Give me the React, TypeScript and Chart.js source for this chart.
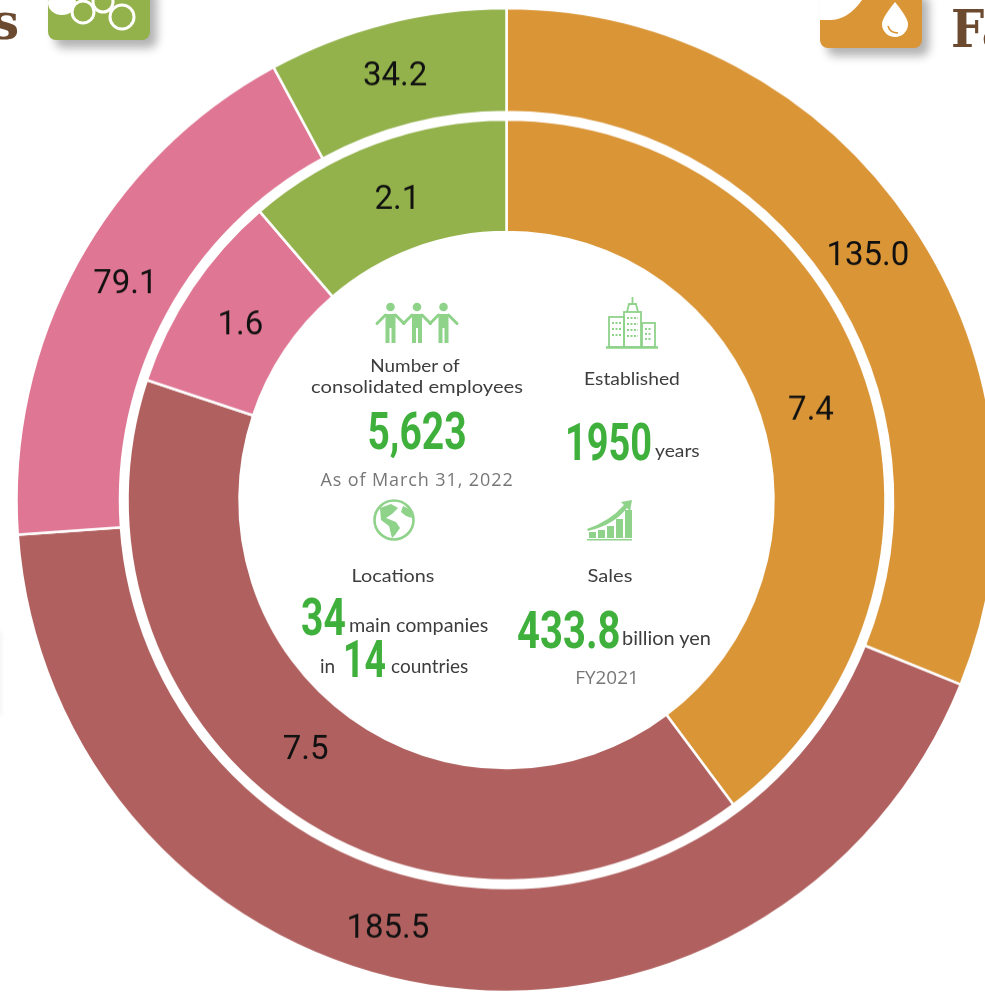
import React, { useEffect, useRef } from "react";
import { Chart, registerables } from "chart.js";

Chart.register(...registerables);

const segments = ["Fats and oils", "Processed foods", "Chemicals", "Other"];
const salesValues = [135.0, 185.5, 79.1, 34.2];
const profitValues = [7.4, 7.5, 1.6, 2.1];
const segmentColors = ["#DA9537", "#B0615F", "#DF7693", "#93B24B"];
const spacerValues = [1];
const salesLabelNudge = [[-2, 3], [-50, -5], [3, -3], [-4, 4]];
const profitLabelNudge = [[-2, 14], [-12, -12], [2, 7], [3, 5]];

const GREEN = "#3FB03C";
const ICON = "#8FD28A";
const DARK = "#3d3d3d";
const GREY = "#777";
const NARROW = 'Roboto, sans-serif';
const GEO = 'Lato, "Noto Sans", sans-serif';
const OPEN = '"Open Sans", sans-serif';

type TP = { x: number; y: number; text: string; size: number; color: string; font: string; weight?: number; sx?: number; left?: boolean; ls?: number };
function T({ x, y, text, size, color, font, weight = 400, sx = 1, left = false, ls = 0 }: TP) {
  return (
    <div style={{ position: "absolute", left: x, top: y, fontFamily: font, fontSize: size, fontWeight: weight, color, letterSpacing: ls, lineHeight: 1, whiteSpace: "nowrap", transformOrigin: left ? "0 50%" : "50% 50%", transform: `translate(${left ? "0" : "-50%"},-50%) scaleX(${sx})` }}>
      {text}
    </div>
  );
}

function Person({ x }: { x: number }) {
  return (
    <g fill={ICON} stroke={ICON}>
      <circle cx={x} cy={307} r={4.3} stroke="none" />
      <path d={`M${x - 5} 314 h10 v29 h-4 v-15 h-2 v15 h-4 z`} stroke="none" />
      <path d={`M${x - 5} 315 L${x - 13.5} 323.5 M${x + 5} 315 L${x + 13.5} 323.5`} strokeWidth={3} fill="none" strokeLinecap="round" />
    </g>
  );
}

function Icons() {
  return (
    <svg width={985} height={994} style={{ position: "absolute", left: 0, top: 0 }}>
      <Person x={390.5} />
      <Person x={417} />
      <Person x={443.5} />
      <g fill="none" stroke={ICON} strokeWidth={1.8}>
        <path d="M606 347.5 H658" strokeWidth={2.5} />
        <rect x={609} y={317} width={15} height={30} />
        <rect x={624} y={312} width={17} height={35} />
        <rect x={642} y={323} width={13} height={24} />
        <path d="M627 312 L629 304 H636 L638 312 M632.5 304 V297" />
        <path d="M612 323 H621 M612 329 H621 M612 335 H621 M627 318 H638 M627 324 H638 M627 330 H638 M627 336 H638 M645 329 H652 M645 334 H652 M645 339 H652" strokeDasharray="2 1.5" />
      </g>
      <circle cx={394} cy={520} r={19.5} fill="#fff" stroke={ICON} strokeWidth={2.6} />
      <path d="M380 508 L391 504 L398 508 L392 514 L386 518 L396 522 L400 528 L395 535 L392 538 L389 526 L381 520 Z M403 506 L411 510 L412 518 L406 516 L401 512 Z" fill={ICON} />
      <g fill={ICON}>
        <rect x={589} y={532} width={7} height={6} />
        <rect x={598} y={530} width={7} height={8} />
        <rect x={607} y={526} width={7} height={12} />
        <rect x={616} y={519} width={7} height={19} />
        <rect x={625} y={510} width={7} height={28} />
        <rect x={587} y={539} width={45} height={1.5} />
        <path d="M632 500 L621 502 L624 505 Q610 521 587 529 L588 531 Q614 525 627 508 L630 511 Z" />
      </g>
    </svg>
  );
}

function Corners() {
  const shadow = "7px 8px 10px rgba(0,0,0,0.3)";
  return (
    <>
      <div style={{ position: "absolute", left: -30, top: 630, width: 30, height: 85, boxShadow: "1px 1px 5px rgba(0,0,0,0.06)" }} />
      <div style={{ position: "absolute", left: 48, top: -20, width: 102, height: 60, background: "#93B24B", borderRadius: 8, boxShadow: shadow }} />
      <svg width={110} height={40} style={{ position: "absolute", left: 48, top: 0 }}>
        <ellipse cx={14} cy={3} rx={14} ry={12} fill="#fff" />
        <g fill="#93B24B" stroke="#fff" strokeWidth={3}>
          <circle cx={35} cy={12} r={11} />
          <circle cx={55} cy={2} r={10} />
          <circle cx={74} cy={17} r={12} />
        </g>
      </svg>
      <div style={{ position: "absolute", left: 820, top: -12, width: 102, height: 60, background: "#DA9537", borderRadius: 8, boxShadow: shadow }} />
      <svg width={102} height={48} style={{ position: "absolute", left: 820, top: 0 }}>
        <path d="M0 0 H42 Q28 20 10 20 H0 Z" fill="#fff" />
        <path d="M75 2 Q88 18 88 24 A13 13 0 0 1 62 24 Q62 18 75 2 Z" fill="#fff" />
        <path d="M68 26 Q70 33 78 33" fill="none" stroke="#DA9537" strokeWidth={1.6} />
      </svg>
      <T x={-9} y={22} text="s" size={50} color="#6B4A30" font='"DejaVu Serif", serif' weight={700} left />
      <T x={951} y={29} text="Fa" size={52} color="#6B4A30" font='"DejaVu Serif", serif' weight={700} left sx={0.9} />
    </>
  );
}

const arcLabels = {
  id: "arcLabels",
  afterDatasetsDraw(chart: any) {
    const ctx = chart.ctx;
    ctx.save();
    ctx.font = "400 33px Roboto, sans-serif";
    ctx.fillStyle = "#111";
    ctx.textAlign = "center";
    ctx.textBaseline = "middle";
    [[0, salesLabelNudge], [2, profitLabelNudge]].forEach(([di, nudges]: any) => {
      chart.getDatasetMeta(di).data.forEach((arc: any, i: number) => {
        const p = arc.getCenterPoint();
        const v = chart.data.datasets[di].data[i] as number;
        ctx.fillText(v.toFixed(1), p.x + nudges[i][0], p.y + nudges[i][1]);
      });
    });
    ctx.restore();
  },
};

export default function App() {
  const ref = useRef<HTMLCanvasElement>(null);
  useEffect(() => {
    const chart = new Chart(ref.current!, {
      type: "doughnut",
      data: {
        labels: segments,
        datasets: [
          { data: salesValues, backgroundColor: segmentColors, borderColor: "#fff", borderWidth: 2.5, weight: 103.5 },
          { data: spacerValues, backgroundColor: "transparent", borderWidth: 0, weight: 7.5 },
          { data: profitValues, backgroundColor: segmentColors, borderColor: "#fff", borderWidth: 2.5, weight: 112 },
        ],
      } as any,
      options: {
        animation: false,
        responsive: false,
        radius: 490,
        cutout: "54.49%",
        plugins: { legend: { display: false }, tooltip: { enabled: false } },
      } as any,
      plugins: [arcLabels],
    });
    // A slight vertical stretch, as in the reference's ellipse-like rings.
    ref.current!.style.height = "1016px";
    return () => chart.destroy();
  }, []);
  return (
    <div style={{ position: "fixed", left: 0, top: 0, width: 985, height: 994, overflow: "hidden", background: "#fff" }}>
      <Corners />
      <canvas ref={ref} width={1013} height={1012} style={{ position: "absolute", left: 0, top: -8, width: 1013, height: 1016 }} />
      <Icons />
      <T x={415} y={365} text="Number of" size={18} color={DARK} font={GEO} sx={1.05} />
      <T x={417} y={386} text="consolidated employees" size={18} color={DARK} font={GEO} sx={1.12} />
      <T x={417} y={432} text="5,623" size={52} color={GREEN} font={NARROW} weight={700} sx={0.75} />
      <T x={417} y={479} text="As of March 31, 2022" size={18} color={GREY} font={OPEN} ls={0.9} />
      <T x={632} y={378} text="Established" size={18} color={DARK} font={GEO} sx={1.07} />
      <T x={565} y={443} text="1950" size={52} color={GREEN} font={NARROW} weight={700} left sx={0.73} />
      <T x={655} y={450} text="years" size={18} color={DARK} font={GEO} left sx={1.07} />
      <T x={393} y={575} text="Locations" size={18} color={DARK} font={GEO} sx={1.1} />
      <T x={301} y={618} text="34" size={52} color={GREEN} font={NARROW} weight={700} left sx={0.75} />
      <T x={349} y={624} text="main companies" size={19} color={DARK} font={GEO} left sx={1.04} />
      <T x={320} y={665} text="in" size={19} color={DARK} font={GEO} left />
      <T x={343} y={660} text="14" size={52} color={GREEN} font={NARROW} weight={700} left sx={0.72} />
      <T x={391} y={665} text="countries" size={19} color={DARK} font={GEO} left />
      <T x={610} y={575} text="Sales" size={18} color={DARK} font={GEO} sx={1.12} />
      <T x={517} y={631} text="433.8" size={52} color={GREEN} font={NARROW} weight={700} left sx={0.77} />
      <T x={622} y={637} text="billion yen" size={19} color={DARK} font={GEO} left sx={1.05} />
      <T x={607} y={677} text="FY2021" size={18} color={GREY} font={OPEN} sx={1.05} />
    </div>
  );
}
